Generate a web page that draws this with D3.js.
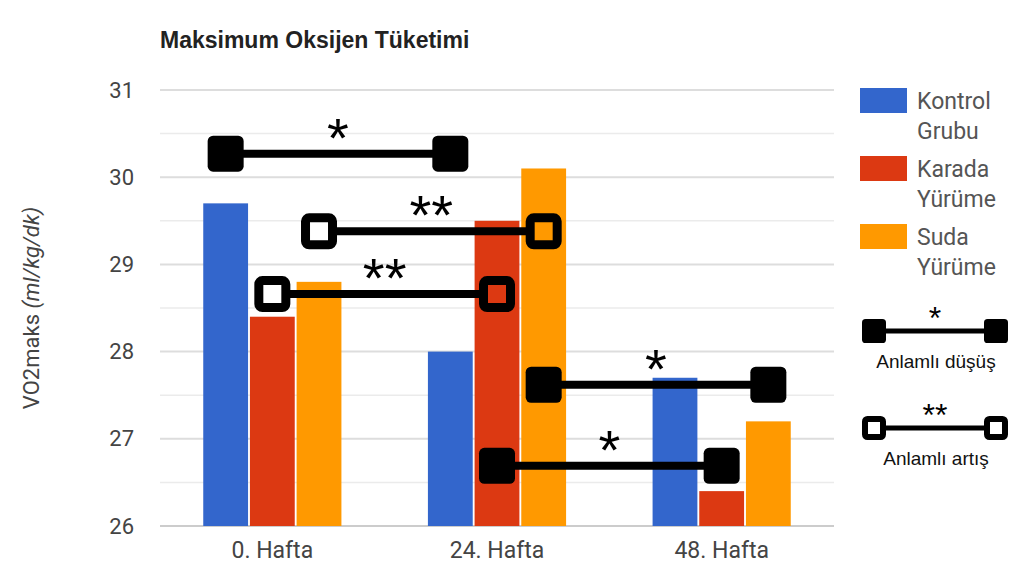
<!DOCTYPE html>
<html>
<head>
<meta charset="utf-8">
<script src="https://cdn.jsdelivr.net/npm/d3@7"></script>
<style>
  body { margin: 0; background: #fff; }
  svg { display: block; }
</style>
</head>
<body>
<div id="chart"></div>
<script>
// weeks and groups
var weeks  = ["0. Hafta", "24. Hafta", "48. Hafta"];
var groups = ["Kontrol Grubu", "Karada Yürüme", "Suda Yürüme"];

// VO2maks values per group, one per week
var kontrol = [29.7, 28.0, 27.7];
var karada  = [28.4, 29.5, 26.4];
var suda    = [28.8, 30.1, 27.2];

var yTicks = [26, 27, 28, 29, 30, 31];

// significance brackets: group index, from week -> to week, level in data units
var sigGroup = [0, 2, 1, 2, 1];
var sigFrom  = [0, 0, 0, 1, 1];
var sigTo    = [1, 1, 1, 2, 2];
var sigLevel = [30.27, 29.38, 28.66, 27.62, 26.69];
var sigKind  = ["dusus", "artis", "artis", "dusus", "dusus"];

var series = [kontrol, karada, suda];
var colors = ["#3366cc", "#dc3912", "#ff9900"];

var width = 1024, height = 576;
var margin = {top: 90, right: 190, bottom: 50, left: 160};

var svg = d3.select("#chart").append("svg")
    .attr("width", width)
    .attr("height", height);

var x0 = d3.scaleBand()
    .domain(weeks)
    .range([margin.left, width - margin.right])
    .paddingInner(0.385)
    .paddingOuter(0.1925);

var x1 = d3.scaleBand()
    .domain(d3.range(groups.length))
    .range([0, x0.bandwidth()])
    .paddingInner(0.04);

var y = d3.scaleLinear()
    .domain([26, 31])
    .range([height - margin.bottom, margin.top]);

///////////////
/// Grid    ///
///////////////

var minor = d3.range(26.5, 31, 1);
svg.append("g").selectAll("line.minor")
    .data(minor)
    .enter().append("line")
    .attr("x1", margin.left).attr("x2", width - margin.right)
    .attr("y1", function (d) { return y(d); })
    .attr("y2", function (d) { return y(d); })
    .attr("stroke", "#ebebeb")
    .attr("stroke-width", 1.5);

svg.append("g").selectAll("line.major")
    .data(yTicks)
    .enter().append("line")
    .attr("x1", margin.left).attr("x2", width - margin.right)
    .attr("y1", function (d) { return y(d); })
    .attr("y2", function (d) { return y(d); })
    .attr("stroke", function (d) { return d === 26 ? "#cccccc" : "#dddddd"; })
    .attr("stroke-width", 2);

///////////////
/// Axes    ///
///////////////

var yAxis = svg.append("g")
    .attr("transform", "translate(" + (margin.left - 23) + ",0)")
    .call(d3.axisLeft(y).tickValues(yTicks).tickSize(0).tickFormat(d3.format("d")));
yAxis.select(".domain").remove();
yAxis.selectAll("text")
    .attr("style", "font-family: Roboto; font-size: 22px; fill: #444;");

var xAxis = svg.append("g")
    .attr("transform", "translate(0," + (height - margin.bottom + 13) + ")")
    .call(d3.axisBottom(x0).tickSize(0));
xAxis.select(".domain").remove();
xAxis.selectAll("text")
    .attr("style", "font-family: Roboto; font-size: 23px; fill: #444;");

///////////////
/// Bars    ///
///////////////

var barGroups = svg.append("g").selectAll("g")
    .data(weeks)
    .enter().append("g")
    .attr("transform", function (d) { return "translate(" + x0(d) + ",0)"; });

barGroups.selectAll("rect")
    .data(function (d, i) { return series.map(function (s, k) { return {k: k, v: s[i]}; }); })
    .enter().append("rect")
    .attr("x", function (d) { return x1(d.k); })
    .attr("width", x1.bandwidth())
    .attr("y", function (d) { return y(d.v); })
    .attr("height", function (d) { return y(26) - y(d.v); })
    .attr("fill", function (d) { return colors[d.k]; });

///////////////
/// Titles  ///
///////////////

svg.append("text")
    .attr("x", 160).attr("y", 48)
    .attr("style", "font-family: 'Liberation Sans', Arial; font-size: 23px; font-weight: bold; fill: #222;")
    .text("Maksimum Oksijen Tüketimi");

var yLabel = svg.append("text")
    .attr("transform", "translate(39," + y(28.5) + ") rotate(-90)")
    .attr("text-anchor", "middle")
    .attr("style", "font-family: Roboto; font-size: 22px; fill: #444;");
yLabel.append("tspan").text("VO2maks ");
yLabel.append("tspan").attr("font-style", "italic").text("(ml/kg/dk)");

///////////////
/// Signif. ///
///////////////

function barCenter(week, group) {
    return x0(weeks[week]) + x1(group) + x1.bandwidth() / 2;
}

function drawBracket(g, xa, xb, yy, kind, size, lw, border) {
    g.append("line")
        .attr("x1", xa + size / 2 - 1).attr("x2", xb - size / 2 + 1)
        .attr("y1", yy).attr("y2", yy)
        .attr("stroke", "#000")
        .attr("stroke-width", lw);
    [xa, xb].forEach(function (cx) {
        if (kind === "dusus") {
            g.append("rect")
                .attr("x", cx - size / 2).attr("y", yy - size / 2)
                .attr("width", size).attr("height", size)
                .attr("rx", size * 0.15)
                .attr("fill", "#000");
        } else {
            var s = size - border;
            g.append("rect")
                .attr("x", cx - s / 2).attr("y", yy - s / 2)
                .attr("width", s).attr("height", s)
                .attr("rx", size * 0.1)
                .attr("fill", "none")
                .attr("stroke", "#000")
                .attr("stroke-width", border);
        }
    });
}

var sig = svg.append("g");
sigLevel.forEach(function (lv, i) {
    var xa = barCenter(sigFrom[i], sigGroup[i]);
    var xb = barCenter(sigTo[i], sigGroup[i]);
    var yy = y(lv);
    var g = sig.append("g");
    drawBracket(g, xa, xb, yy, sigKind[i], 36, 8, 9);
    g.append("text")
        .attr("x", (xa + xb) / 2)
        .attr("y", yy + 3)
        .attr("text-anchor", "middle")
        .attr("style", "font-family: 'Liberation Sans', Arial; font-size: 56px; fill: #000;")
        .text(sigKind[i] === "dusus" ? "*" : "**");
});

///////////////
/// Legend  ///
///////////////

var legend = svg.append("g");
groups.forEach(function (name, i) {
    var ly = 88 + i * 68;
    legend.append("rect")
        .attr("x", 860).attr("y", ly)
        .attr("width", 47).attr("height", 25)
        .attr("fill", colors[i]);
    var words = name.split(" ");
    words.forEach(function (w, j) {
        legend.append("text")
            .attr("x", 917).attr("y", ly + 21 + j * 30)
            .attr("style", "font-family: Roboto; font-size: 23px; fill: #555;")
            .text(w);
    });
});

var legendMarks = [
    {kind: "dusus", y: 331, label: "Anlamlı düşüş", star: "*"},
    {kind: "artis", y: 428, label: "Anlamlı artış", star: "**"}
];
legendMarks.forEach(function (m) {
    var g = legend.append("g");
    drawBracket(g, 874, 996, m.y, m.kind, 24, 5, 6);
    g.append("text")
        .attr("x", 935).attr("y", m.y - 2)
        .attr("text-anchor", "middle")
        .attr("style", "font-family: 'Liberation Sans', Arial; font-size: 32px; fill: #000;")
        .text(m.star);
    g.append("text")
        .attr("x", 936).attr("y", m.y + 37)
        .attr("text-anchor", "middle")
        .attr("style", "font-family: 'Liberation Sans', Arial; font-size: 19px; fill: #111;")
        .text(m.label);
});
</script>
</body>
</html>
